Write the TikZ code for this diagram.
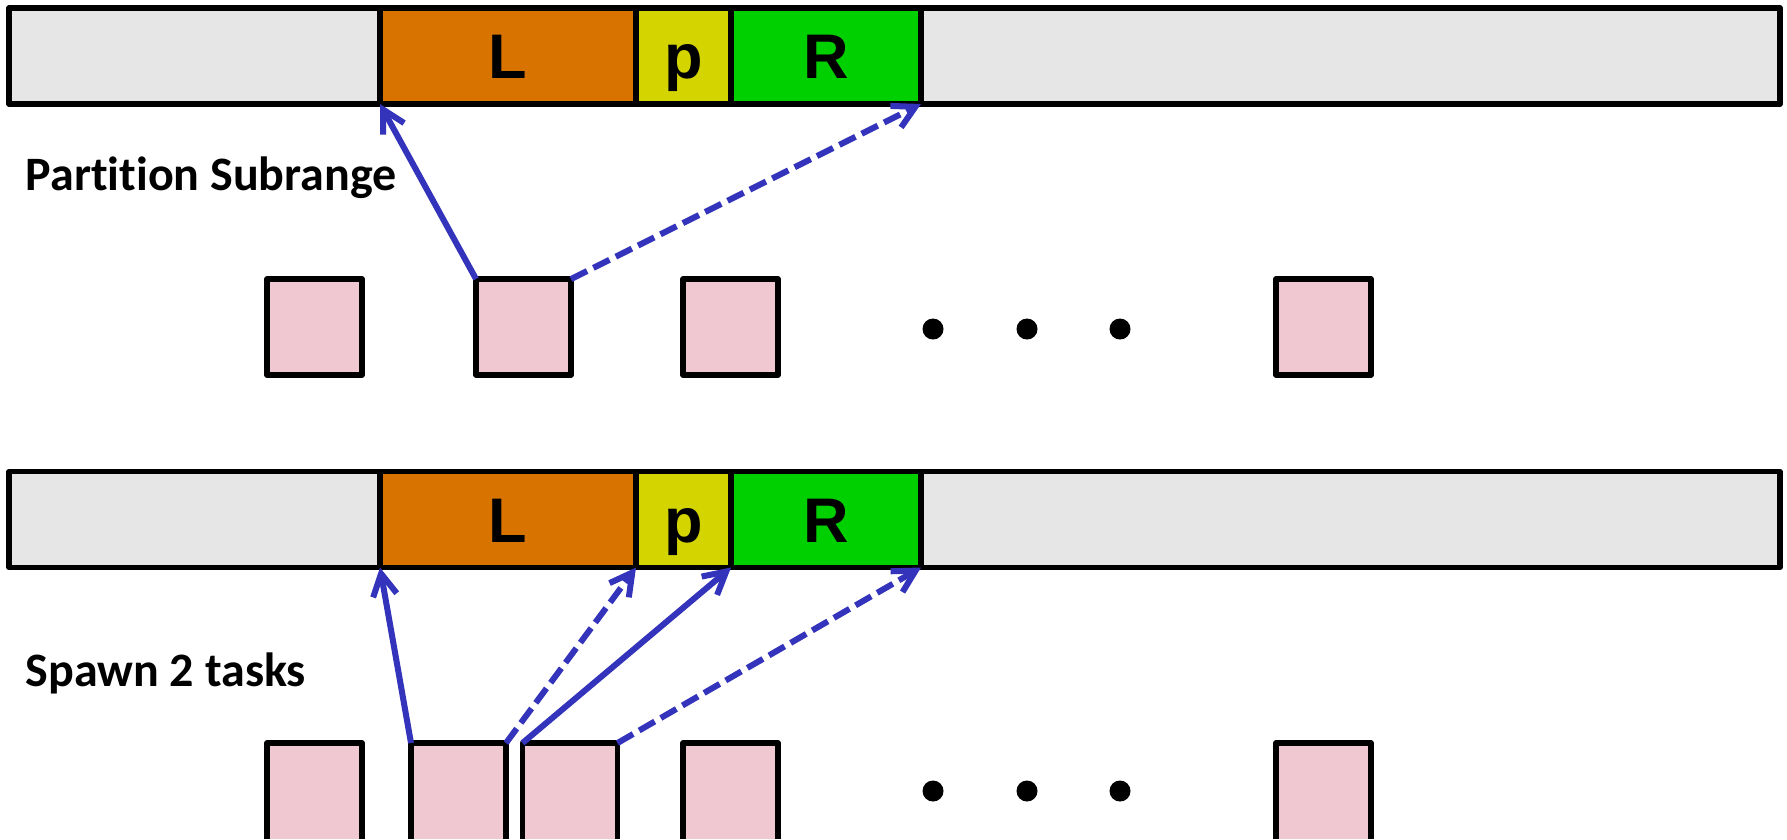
\documentclass[tikz,border=0pt]{standalone}
\usepackage{fontspec}
\setmainfont{Carlito}[Ligatures=NoCommon]
\newfontfamily\letterfont{Liberation Sans}
\usetikzlibrary{arrows.meta}
\definecolor{bargrey}{RGB}{230,230,230}
\definecolor{Lorange}{RGB}{217,115,0}
\definecolor{pyellow}{RGB}{212,212,0}
\definecolor{Rgreen}{RGB}{0,208,0}
\definecolor{taskpink}{RGB}{240,200,210}
\definecolor{arrowblue}{RGB}{51,51,187}
\tikzset{
  bar/.style={draw=black, line width=1.3pt, fill=bargrey, rectangle, inner sep=0pt, outer sep=0pt, line join=round, minimum height=24pt},
  seg/.style={draw=black, line width=1.3pt, rectangle, inner sep=0pt, outer sep=0pt, line join=round, minimum height=24pt,
    font=\letterfont\fontsize{15.75}{18}\selectfont\bfseries, text height=11.25pt, text depth=0pt},
  task/.style={draw=black, line width=1.35pt, fill=taskpink, rectangle, inner sep=0pt, outer sep=0pt, line join=round, minimum width=23.75pt, minimum height=24pt},
  opentask/.style={fill=taskpink, rectangle, inner sep=0pt, outer sep=0pt, minimum width=23.75pt, minimum height=24pt},
  taskedge/.style={draw=black, line width=1.35pt, line join=round},
  dot/.style={circle, fill=black, inner sep=0pt, minimum size=5.25pt},
  lab/.style={anchor=base west, inner sep=0pt, font=\fontsize{12}{14}\selectfont\bfseries},
  link/.style={draw=arrowblue, line width=1.5pt, -{Straight Barb[length=5.5pt,width=6pt]}},
  dlink/.style={link, dash pattern=on 4.5pt off 1.75pt},
}
\begin{document}
\begin{tikzpicture}[x=0.25pt,y=-0.25pt]
\useasboundingbox (0,0) rectangle (1787,839);
% top bar
\node[bar, minimum width=442.75pt] (bar1) at (894.5,56) {};
\node[seg, fill=Lorange, minimum width=64pt] (L1) at (508,56) {L};
\node[seg, fill=pyellow, minimum width=23.75pt] (p1) at (683.5,56) {p};
\node[seg, fill=Rgreen, minimum width=47.5pt] (R1) at (826,56) {R};
\node[lab] (t1) at (25,190) {Partition Subrange};
% top tasks
\node[task] (a1) at (314.5,327) {};
\node[task] (a2) at (523.5,327) {};
\node[task] (a3) at (730.5,327) {};
\node[task] (a4) at (1323.5,327) {};
\node[dot] (ad1) at (933,329) {};
\node[dot] (ad2) at (1027,329) {};
\node[dot] (ad3) at (1120,329) {};
\draw[link] (a2.north west) -- (L1.south west);
\draw[dlink] (a2.north east) -- (R1.south east);
% bottom bar
\node[bar, minimum width=442.75pt] (bar2) at (894.5,519.5) {};
\node[seg, fill=Lorange, minimum width=64pt] (L2) at (508,519.5) {L};
\node[seg, fill=pyellow, minimum width=23.75pt] (p2) at (683.5,519.5) {p};
\node[seg, fill=Rgreen, minimum width=47.5pt] (R2) at (826,519.5) {R};
\node[lab] (t2) at (25,686) {Spawn 2 tasks};
% bottom tasks (cut by the lower edge)
\foreach \n/\x in {b1/314.5, b2/458.5, b3/570, b4/730.5, b5/1323.5}{
  \node[opentask] (\n) at (\x,791) {};
  \draw[taskedge] (\n.south west) -- (\n.north west) -- (\n.north east) -- (\n.south east);
}
\node[dot] (bd1) at (933,791) {};
\node[dot] (bd2) at (1027,791) {};
\node[dot] (bd3) at (1120,791) {};
\draw[link] (b2.north west) -- (L2.south west);
\draw[dlink] (b2.north east) -- (p2.south west);
\draw[link] (b3.north west) -- (R2.south west);
\draw[dlink] (b3.north east) -- (R2.south east);
\end{tikzpicture}
\end{document}
